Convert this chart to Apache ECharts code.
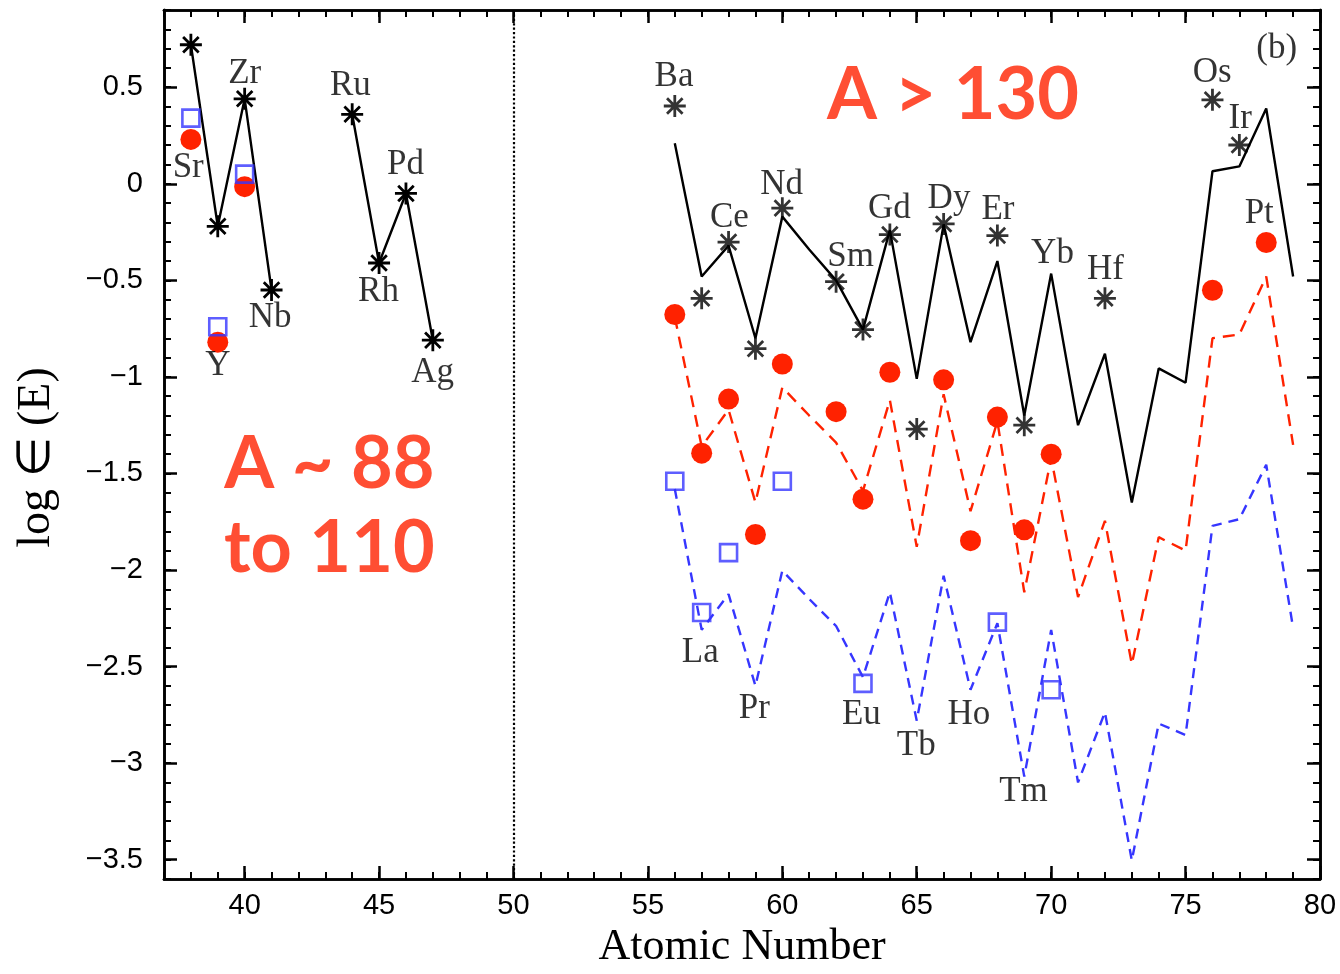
<!DOCTYPE html>
<html>
<head>
<meta charset="utf-8">
<script src="https://cdn.jsdelivr.net/npm/echarts@6/dist/echarts.min.js"></script>
<style>
html,body{margin:0;padding:0;background:#fff;}
#chart{width:1340px;height:974px;}
</style>
</head>
<body>
<div id="chart"></div>
<script>
// ---------- data ----------
const leftZ = [38, 39, 40, 41, 44, 45, 46, 47];
const leftObs = [0.72, -0.22, 0.44, -0.55, 0.36, -0.41, -0.05, -0.81];
const leftBlueZ = [38, 39, 40];
const leftBlue = [0.34, -0.74, 0.05];
const leftRedZ = [38, 39, 40];
const leftRed = [0.23, -0.82, -0.015];

const modelZ = [56, 57, 58, 59, 60, 61, 62, 63, 64, 65, 66, 67, 68, 69, 70, 71, 72, 73, 74, 75, 76, 77, 78, 79];
const blackModel = [0.21, -0.48, -0.32, -0.80, -0.17, -0.34, -0.50, -0.755, -0.24, -1.01, -0.21, -0.82, -0.40, -1.20, -0.465, -1.25, -0.88, -1.65, -0.956, -1.03, 0.065, 0.09, 0.39, -0.48];
const redModel = [-0.69, -1.36, -1.17, -1.65, -1.054, -1.20, -1.34, -1.59, -1.12, -1.88, -1.09, -1.695, -1.23, -2.115, -1.42, -2.14, -1.745, -2.488, -1.83, -1.90, -0.80, -0.78, -0.48, -1.352];
const blueModel = [-1.58, -2.31, -2.125, -2.60, -2.003, -2.15, -2.29, -2.555, -2.115, -2.78, -2.03, -2.62, -2.275, -3.07, -2.31, -3.10, -2.736, -3.504, -2.795, -2.855, -1.771, -1.737, -1.455, -2.30];

const starZ = [56, 57, 58, 59, 60, 62, 63, 64, 65, 66, 68, 69, 72, 76, 77];
const starObs = [0.403, -0.593, -0.302, -0.854, -0.126, -0.507, -0.755, -0.263, -1.27, -0.208, -0.268, -1.25, -0.593, 0.435, 0.201];
const redObsZ = [56, 57, 58, 59, 60, 62, 63, 64, 66, 67, 68, 69, 70, 76, 78];
const redObs = [-0.677, -1.395, -1.115, -1.816, -0.933, -1.18, -1.633, -0.976, -1.015, -1.848, -1.208, -1.792, -1.40, -0.551, -0.304];
const blueObsZ = [56, 57, 58, 60, 63, 68, 70];
const blueObs = [-1.54, -2.22, -1.91, -1.54, -2.587, -2.27, -2.62];

const labelNames = ['Sr','Y','Zr','Nb','Ru','Rh','Pd','Ag','Ba','La','Ce','Pr','Nd','Sm','Eu','Gd','Tb','Dy','Ho','Er','Tm','Yb','Hf','Os','Ir','Pt','(b)'];
const labelZ = [37.9, 39.0, 40.0, 40.95, 43.93, 44.98, 45.98, 46.99, 55.97, 56.95, 58.03, 58.96, 59.97, 62.54, 62.94, 63.98, 64.98, 66.2, 66.94, 68.02, 68.97, 70.05, 72.02, 75.99, 77.03, 77.74, 78.39];
const labelY = [0.082, -0.943, 0.569, -0.695, 0.506, -0.558, 0.099, -0.977, 0.552, -2.43, -0.174, -2.72, -0.003, -0.379, -2.75, -0.13, -2.91, -0.08, -2.75, -0.135, -3.15, -0.36, -0.447, 0.574, 0.335, -0.157, 0.70];

const annoText = ['A > 130', 'A ~ 88\nto 110'];
const annoZ = [66.35, 43.15];
const annoY = [0.456, -1.675];

const xMajor = [40, 45, 50, 55, 60, 65, 70, 75, 80];
const yMajor = [-3.5, -3, -2.5, -2, -1.5, -1, -0.5, 0, 0.5];

// ---------- helpers ----------
const pairs = (xs, ys) => xs.map((x, i) => [x, ys[i]]);
function leftLine() {
  const out = [];
  for (let i = 0; i < leftZ.length; i++) {
    if (i > 0 && leftZ[i] - leftZ[i - 1] > 1) out.push([leftZ[i] - 1, null]);
    out.push([leftZ[i], leftObs[i]]);
  }
  return out;
}
const RED = '#ff2200';
const BLUE = '#3636ff';
const STAR = 'path://M0,-10L0,10M-10,0L10,0M-7.07,-7.07L7.07,7.07M-7.07,7.07L7.07,-7.07';
const yFmt = v => {
  if (Math.abs(v) < 1e-9) return '0';
  return (v < 0 ? '\u2212' : '') + String(Math.abs(v));
};

const XMIN = 37, XMAX = 80, YMIN = -3.6, YMAX = 0.9;
const lineCol = '#000';
function xAx(pos, major) {
  return {
    type: 'value', position: pos, min: XMIN, max: XMAX,
    interval: major ? undefined : 1,
    axisLine: { show: true, onZero: false, lineStyle: { color: lineCol, width: 2.6 } },
    axisTick: major
      ? { show: true, inside: true, length: 13, customValues: xMajor, lineStyle: { color: lineCol, width: 2.5 } }
      : { show: true, inside: true, length: 7, lineStyle: { color: lineCol, width: 2 } },
    axisLabel: (major && pos === 'bottom')
      ? { show: true, customValues: xMajor, color: '#000', fontFamily: 'Liberation Sans', fontSize: 29, margin: 12 }
      : { show: false },
    splitLine: { show: false },
    name: (major && pos === 'bottom') ? 'Atomic Number' : '',
    nameLocation: 'middle', nameGap: 46,
    nameTextStyle: { fontFamily: 'Liberation Serif', fontSize: 44, color: '#000' }
  };
}
function yAx(pos, major) {
  return {
    type: 'value', position: pos, min: YMIN, max: YMAX,
    interval: major ? undefined : 0.1,
    axisLine: { show: true, onZero: false, lineStyle: { color: lineCol, width: 2.6 } },
    axisTick: major
      ? { show: true, inside: true, length: 13, customValues: yMajor, lineStyle: { color: lineCol, width: 2.5 } }
      : { show: true, inside: true, length: 7, lineStyle: { color: lineCol, width: 2 } },
    axisLabel: (major && pos === 'left')
      ? { show: true, customValues: yMajor, formatter: yFmt, color: '#000', fontFamily: 'Liberation Sans', fontSize: 29, margin: 21 }
      : { show: false },
    splitLine: { show: false },
    name: (major && pos === 'left') ? 'log \u2208 (E)' : '',
    nameLocation: 'middle', nameGap: 104, nameRotate: 90,
    nameTextStyle: { fontFamily: 'Liberation Serif', fontSize: 46, color: '#000', padding: [0, 26, 0, 0] }
  };
}

const el = document.getElementById('chart');
const chart = echarts.init(el, null, { renderer: 'canvas' });
const option = {
  animation: false,
  backgroundColor: '#fff',
  grid: { left: 164, right: 20, top: 10, bottom: 84, containLabel: false },
  xAxis: [xAx('bottom', false), xAx('bottom', true), xAx('top', false), xAx('top', true)],
  yAxis: [yAx('left', false), yAx('left', true), yAx('right', false), yAx('right', true)],
  series: [
    {
      type: 'line', name: 'divider', data: [], xAxisIndex: 0, yAxisIndex: 0,
      markLine: {
        silent: true, symbol: 'none', label: { show: false },
        lineStyle: { color: '#000', type: 'dotted', width: 2.2 },
        data: [{ xAxis: 50 }]
      }
    },
    {
      type: 'line', name: 'model r', data: pairs(modelZ, blueModel), xAxisIndex: 0, yAxisIndex: 0,
      showSymbol: false, lineStyle: { color: BLUE, width: 2.4, type: [10, 7] }, z: 2
    },
    {
      type: 'line', name: 'model r2', data: pairs(modelZ, redModel), xAxisIndex: 0, yAxisIndex: 0,
      showSymbol: false, lineStyle: { color: RED, width: 2.4, type: [12, 8] }, z: 2
    },
    {
      type: 'line', name: 'model s', data: pairs(modelZ, blackModel), xAxisIndex: 0, yAxisIndex: 0,
      showSymbol: false, lineStyle: { color: '#000', width: 2.4 }, z: 2
    },
    {
      type: 'line', name: 'obs left', data: leftLine(), xAxisIndex: 0, yAxisIndex: 0,
      connectNulls: false, symbol: STAR, symbolSize: 22, showSymbol: true,
      lineStyle: { color: '#000', width: 2.4 },
      itemStyle: { color: '#000', borderColor: '#000', borderWidth: 2.8 }, z: 4
    },
    {
      type: 'scatter', name: 'obs stars', data: pairs(starZ, starObs), xAxisIndex: 0, yAxisIndex: 0,
      symbol: STAR, symbolSize: 22,
      itemStyle: { color: '#000', borderColor: '#000', borderWidth: 2.8 }, z: 4
    },
    {
      type: 'scatter', name: 'red obs', data: pairs(leftRedZ, leftRed).concat(pairs(redObsZ, redObs)),
      xAxisIndex: 0, yAxisIndex: 0, symbol: 'circle', symbolSize: 21,
      itemStyle: { color: RED, opacity: 1 }, z: 5
    },
    {
      type: 'scatter', name: 'blue obs', data: pairs(leftBlueZ, leftBlue).concat(pairs(blueObsZ, blueObs)),
      xAxisIndex: 0, yAxisIndex: 0, symbol: 'rect', symbolSize: 17,
      itemStyle: { color: 'rgba(0,0,0,0)', borderColor: BLUE, borderWidth: 2.6 }, z: 6
    },
    {
      type: 'scatter', name: 'labels', xAxisIndex: 0, yAxisIndex: 0, symbolSize: 1,
      itemStyle: { color: 'rgba(0,0,0,0)' }, silent: true, z: 7,
      data: labelNames.map((n, i) => ({ name: n, value: [labelZ[i], labelY[i]] })),
      label: {
        show: true, position: 'inside', formatter: p => p.name,
        fontFamily: 'Liberation Serif', fontSize: 35, color: '#000'
      }
    },
    {
      type: 'scatter', name: 'annotations', xAxisIndex: 0, yAxisIndex: 0, symbolSize: 1,
      itemStyle: { color: 'rgba(0,0,0,0)' }, silent: true, z: 8,
      data: annoText.map((t, i) => ({ name: t, value: [annoZ[i], annoY[i]] })),
      label: {
        show: true, position: 'inside', formatter: p => p.name,
        fontFamily: 'Lato', fontWeight: 'bold', fontSize: 72, lineHeight: 84, color: RED, align: 'center'
      }
    }
  ]
};
chart.setOption(option);
</script>
</body>
</html>
